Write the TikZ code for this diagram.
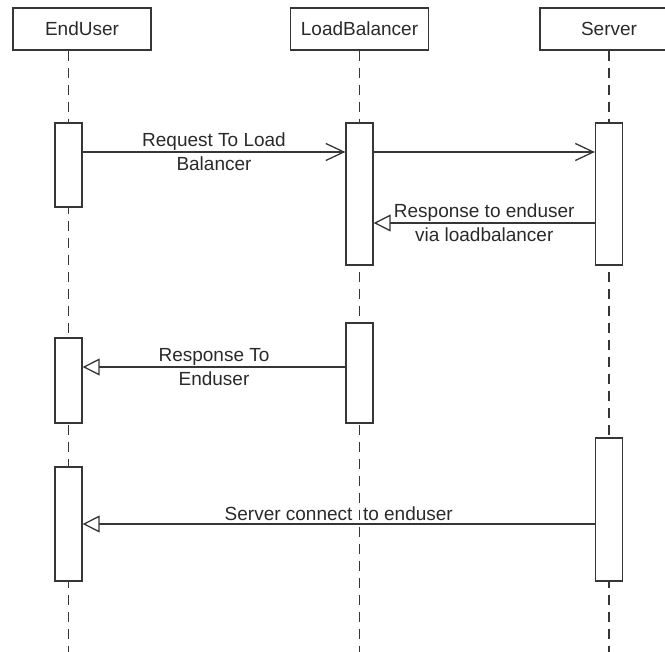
\documentclass[tikz,border=0pt]{standalone}
\usepackage{fontspec}
\setmainfont{Liberation Sans}
\usepackage{xcolor}
\usetikzlibrary{arrows.meta,calc,positioning,backgrounds}
\definecolor{Wire}{HTML}{363636}
\definecolor{Ink}{HTML}{2A2A2A}

\begin{document}
\begin{tikzpicture}[x=1pt,y=-1pt,
  actor/.style={draw=Wire,line width=1.3pt,minimum width=138pt,minimum height=42pt,inner sep=0pt,
    font=\fontsize{19}{24}\selectfont,text=Ink},
  lifeline/.style={Wire,line width=1.5pt,dash pattern=on 10pt off 7pt},
  activation/.style={draw=Wire,fill=white,line width=1.3pt,minimum width=27pt,inner sep=0pt},
  call/.style={Wire,line width=1.3pt,-{Straight Barb[length=18pt,width=17pt,line width=1.3pt]}},
  reply/.style={Wire,line width=1.3pt,-{Triangle[open,length=17pt,width=17pt,line width=1.3pt,fill=white]}},
  msg/.style={font=\fontsize{19}{24}\selectfont,text=Ink,align=center,inner sep=0pt}
]
\useasboundingbox (0,0) rectangle (665,652);
\coordinate (bottom) at (0,652);

\node[actor] (enduser) at (82,29) {EndUser};
\node[actor] (balancer) at (359.5,29) {LoadBalancer};
\node[actor] (server) at (609,29) {Server};

\node[activation,minimum height=84pt] (eu1) at (68.5,165) {};
\node[activation,minimum height=142pt] (lb1) at (359.5,194) {};
\node[activation,minimum height=142pt] (sv1) at (609,194) {};
\node[activation,minimum height=100pt] (lb2) at (359.5,373) {};
\node[activation,minimum height=85pt] (eu2) at (68.5,380.5) {};
\node[activation,minimum height=143pt] (sv2) at (609,509.5) {};
\node[activation,minimum height=114pt] (eu3) at (68.5,524) {};

\begin{scope}[on background layer]
  \draw[lifeline] (eu1.north |- enduser.south) -- (eu1.north |- bottom);
  \draw[lifeline] (lb1.north |- balancer.south) -- (lb1.north |- bottom);
  \draw[lifeline] (sv1.north |- server.south) -- (sv1.north |- bottom);
\end{scope}

\draw[call] (eu1.east |- 0,152) -- node[msg] {Request To Load\\Balancer} (lb1.west |- 0,152);
\draw[call] (lb1.east |- 0,152) -- (sv1.west |- 0,152);
\draw[reply] (sv1.west |- 0,223) -- node[msg] {Response to enduser\\via loadbalancer} (lb1.east |- 0,223);
\draw[reply] (lb2.west |- 0,367) -- node[msg] {Response To\\Enduser} (eu2.east |- 0,367);
\draw[reply] (sv2.west |- 0,524) -- node[msg,anchor=base,yshift=3pt] {Server connect\ \ to enduser} (eu3.east |- 0,524);
\end{tikzpicture}
\end{document}
